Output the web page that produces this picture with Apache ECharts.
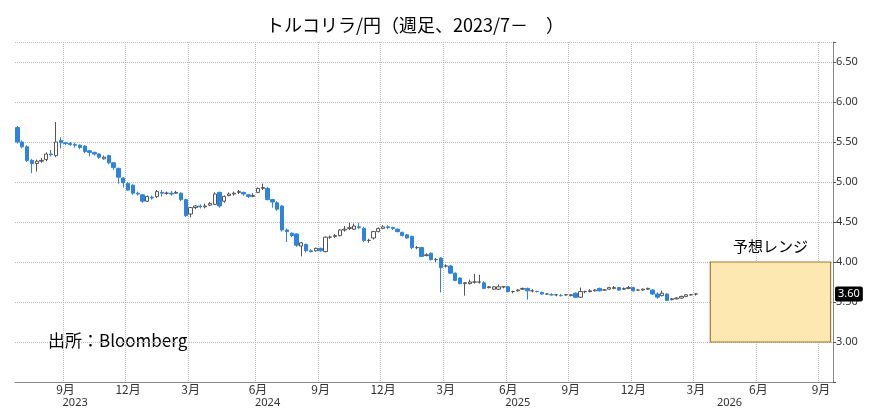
<!DOCTYPE html>
<html>
<head>
<meta charset="utf-8">
<script src="https://cdn.jsdelivr.net/npm/echarts@6/dist/echarts.min.js"></script>
<style>
html, body { margin: 0; padding: 0; background: #fff; }
#main { width: 874px; height: 413px; }
</style>
</head>
<body>
<div id="main"></div>
<script>
var chart = echarts.init(document.getElementById("main"));

// 週足 [始値, 終値, 安値, 高値]
var candles = [
    [5.68,5.50,5.48,5.70],[5.50,5.44,5.42,5.52],[5.44,5.27,5.25,5.46],[5.27,5.23,5.11,5.29],
    [5.23,5.26,5.13,5.28],[5.26,5.27,5.24,5.30],[5.28,5.35,5.26,5.37],[5.35,5.34,5.32,5.40],
    [5.33,5.50,5.31,5.75],[5.52,5.49,5.42,5.56],[5.49,5.48,5.46,5.50],[5.48,5.47,5.45,5.50],
    [5.47,5.46,5.43,5.49],[5.46,5.43,5.41,5.47],[5.45,5.38,5.36,5.46],[5.39,5.37,5.32,5.40],
    [5.37,5.35,5.33,5.38],[5.35,5.31,5.29,5.36],[5.29,5.31,5.28,5.33],[5.33,5.24,5.22,5.34],
    [5.24,5.18,5.15,5.25],[5.17,5.06,4.98,5.18],[5.05,4.99,4.93,5.06],[4.98,4.90,4.89,5.00],
    [4.96,4.86,4.84,4.97],[4.86,4.85,4.83,4.88],[4.84,4.76,4.74,4.85],[4.76,4.82,4.75,4.83],
    [4.81,4.80,4.78,4.83],[4.82,4.88,4.80,4.90],[4.87,4.86,4.82,4.90],[4.86,4.86,4.84,4.88],
    [4.86,4.85,4.83,4.89],[4.86,4.87,4.85,4.89],[4.86,4.78,4.76,4.87],[4.78,4.58,4.56,4.79],
    [4.60,4.68,4.56,4.69],[4.68,4.70,4.66,4.71],[4.70,4.69,4.67,4.72],[4.69,4.70,4.67,4.73],
    [4.71,4.73,4.70,4.75],[4.72,4.85,4.71,4.87],[4.87,4.70,4.68,4.88],[4.76,4.82,4.74,4.83],
    [4.83,4.85,4.82,4.87],[4.85,4.86,4.83,4.88],[4.87,4.88,4.85,4.90],[4.87,4.85,4.83,4.88],
    [4.84,4.82,4.80,4.85],[4.82,4.83,4.81,4.86],[4.87,4.92,4.86,4.93],[4.92,4.93,4.90,4.98],
    [4.92,4.78,4.77,4.94],[4.78,4.75,4.68,4.79],[4.74,4.66,4.64,4.76],[4.70,4.40,4.38,4.71],
    [4.40,4.38,4.25,4.42],[4.36,4.33,4.31,4.37],[4.35,4.21,4.19,4.36],[4.20,4.24,4.07,4.25],
    [4.22,4.14,4.12,4.23],[4.14,4.13,4.12,4.16],[4.14,4.17,4.13,4.18],[4.17,4.14,4.13,4.18],
    [4.13,4.31,4.12,4.32],[4.31,4.31,4.29,4.33],[4.32,4.33,4.30,4.35],[4.33,4.40,4.32,4.41],
    [4.40,4.41,4.38,4.45],[4.42,4.43,4.40,4.49],[4.41,4.45,4.40,4.48],[4.44,4.43,4.41,4.49],
    [4.42,4.27,4.25,4.44],[4.27,4.27,4.24,4.29],[4.30,4.38,4.28,4.39],[4.38,4.42,4.37,4.43],
    [4.42,4.44,4.41,4.46],[4.44,4.43,4.41,4.46],[4.43,4.42,4.40,4.44],[4.41,4.38,4.37,4.42],
    [4.37,4.33,4.32,4.38],[4.34,4.30,4.29,4.35],[4.32,4.18,4.16,4.33],[4.18,4.18,4.16,4.20],
    [4.18,4.07,4.06,4.19],[4.08,4.09,4.07,4.11],[4.11,4.03,4.02,4.12],[4.03,4.03,4.00,4.05],
    [4.05,3.93,3.62,4.06],[3.95,3.95,3.93,3.97],[3.95,3.86,3.85,3.96],[3.86,3.77,3.76,3.87],
    [3.80,3.73,3.72,3.81],[3.73,3.74,3.58,3.75],[3.73,3.75,3.72,3.78],[3.75,3.75,3.73,3.85],
    [3.75,3.75,3.73,3.84],[3.74,3.67,3.66,3.76],[3.68,3.69,3.67,3.70],[3.66,3.69,3.65,3.70],
    [3.66,3.69,3.65,3.72],[3.69,3.69,3.67,3.70],[3.69,3.63,3.62,3.70],[3.63,3.63,3.61,3.64],
    [3.64,3.65,3.63,3.66],[3.66,3.67,3.65,3.68],[3.67,3.64,3.53,3.68],[3.64,3.64,3.62,3.66],
    [3.63,3.63,3.62,3.64],[3.62,3.60,3.59,3.63],[3.60,3.60,3.59,3.61],[3.59,3.59,3.58,3.61],
    [3.59,3.59,3.57,3.60],[3.58,3.58,3.57,3.60],[3.59,3.59,3.58,3.60],[3.58,3.59,3.57,3.60],
    [3.61,3.56,3.55,3.62],[3.56,3.63,3.55,3.68],[3.63,3.63,3.61,3.64],[3.63,3.64,3.62,3.66],
    [3.64,3.65,3.63,3.66],[3.67,3.64,3.63,3.68],[3.65,3.65,3.64,3.66],[3.66,3.68,3.65,3.69],
    [3.67,3.68,3.66,3.70],[3.68,3.65,3.64,3.69],[3.66,3.67,3.65,3.68],[3.67,3.68,3.66,3.70],
    [3.68,3.64,3.63,3.69],[3.65,3.65,3.64,3.66],[3.65,3.66,3.64,3.67],[3.66,3.67,3.65,3.68],
    [3.65,3.60,3.59,3.66],[3.60,3.56,3.54,3.62],[3.58,3.61,3.57,3.64],[3.60,3.52,3.51,3.61],
    [3.53,3.54,3.52,3.55],[3.54,3.55,3.53,3.56],[3.55,3.57,3.54,3.58],[3.57,3.59,3.56,3.60],
    [3.59,3.59,3.58,3.60],[3.60,3.60,3.58,3.61]
];

var startDate = '2023-06-23';
var weekCount = 170;
var monthTicks = [3, 6, 9, 12];
var yearLabelDates = ['2023-09-15', '2024-06-21', '2025-06-20', '2026-04-24'];
var rangeLow = 3.0;
var rangeHigh = 4.0;
var rangeStart = '2026-03-27';
var lastPrice = 3.60;

function fmt(d) {
    var m = d.getMonth() + 1, day = d.getDate();
    return d.getFullYear() + '-' + (m < 10 ? '0' : '') + m + '-' + (day < 10 ? '0' : '') + day;
}
var weeks = [];
var t0 = new Date(startDate + 'T00:00:00');
for (var i = 0; i < weekCount; i++) {
    weeks.push(fmt(new Date(t0.getTime() + i * 7 * 86400000)));
}
var seriesData = weeks.map(function (w, i) { return i < candles.length ? candles[i] : '-'; });

function isQuarterStart(index, value) {
    var p = value.split('-');
    return monthTicks.indexOf(parseInt(p[1], 10)) >= 0 && parseInt(p[2], 10) <= 7;
}

var option = {
    animation: false,
    title: {
        text: 'トルコリラ/円（週足、2023/7－　）',
        left: 410, top: 11, textAlign: 'center',
        textStyle: { fontFamily: 'Noto Sans CJK JP', fontSize: 18, fontWeight: 'normal', color: '#000' }
    },
    grid: { left: 15, right: 41, top: 42, bottom: 31 },
    xAxis: [{
        type: 'category',
        data: weeks,
        boundaryGap: true,
        axisLine: { lineStyle: { color: '#888' } },
        axisTick: { show: false },
        axisLabel: {
            interval: isQuarterStart,
            formatter: function (v) { return parseInt(v.split('-')[1], 10) + '月'; },
            fontFamily: 'Noto Sans CJK JP', fontSize: 12, color: '#333', margin: 1
        },
        splitLine: { show: true, interval: isQuarterStart, lineStyle: { color: '#bbb', type: 'dotted' } }
    }, {
        type: 'category',
        data: weeks,
        position: 'bottom',
        offset: 14,
        axisLine: { show: false },
        axisTick: { show: false },
        axisLabel: {
            interval: function (i, v) { return yearLabelDates.indexOf(v) >= 0; },
            formatter: function (v) { return v.slice(0, 4); },
            fontFamily: 'Noto Sans', fontSize: 11, color: '#333', margin: 1
        }
    }],
    yAxis: {
        type: 'value',
        position: 'right',
        min: 2.5, max: 6.75, interval: 0.5,
        axisLine: { show: true, lineStyle: { color: '#888' } },
        axisTick: { show: true, length: 3, lineStyle: { color: '#555' } },
        axisLabel: {
            formatter: function (v) { return v < 2.9 || v > 6.6 ? '' : v.toFixed(2); },
            fontFamily: 'Noto Sans', fontSize: 11, color: '#333', margin: 3
        },
        splitLine: { show: true, lineStyle: { color: '#bbb', type: 'dotted' } }
    },
    series: [{
        type: 'candlestick',
        data: seriesData,
        barWidth: 3.8,
        itemStyle: {
            color: '#ffffff', borderColor: '#555',
            color0: '#2e84dc', borderColor0: '#2e84dc'
        },
        markArea: {
            silent: true,
            itemStyle: { color: '#fde8b2', borderColor: '#9c7a2c', borderWidth: 1.2 },
            label: {
                show: true, position: 'top', distance: 8,
                fontFamily: 'Noto Sans CJK JP', fontSize: 15, color: '#000'
            },
            data: [[
                { name: '予想レンジ', xAxis: rangeStart, yAxis: rangeHigh },
                { xAxis: weeks[weeks.length - 1], yAxis: rangeLow }
            ]]
        },
        markLine: {
            silent: true,
            symbol: 'none',
            lineStyle: { color: 'rgba(0,0,0,0)', width: 0 },
            label: {
                show: true,
                position: 'end', distance: 2,
                formatter: lastPrice.toFixed(2),
                backgroundColor: '#000', color: '#fff',
                padding: [2, 3], borderRadius: 2,
                fontFamily: 'Noto Sans', fontSize: 11
            },
            data: [{ yAxis: lastPrice }]
        }
    }],
    graphic: [{
        type: 'text', left: 48, top: 332,
        style: { text: '出所：Bloomberg', fontFamily: 'Noto Sans CJK JP', fontSize: 17, fill: '#000' }
    }]
};

chart.setOption(option);
window.onresize = function () { chart.resize(); };
</script>
</body>
</html>
